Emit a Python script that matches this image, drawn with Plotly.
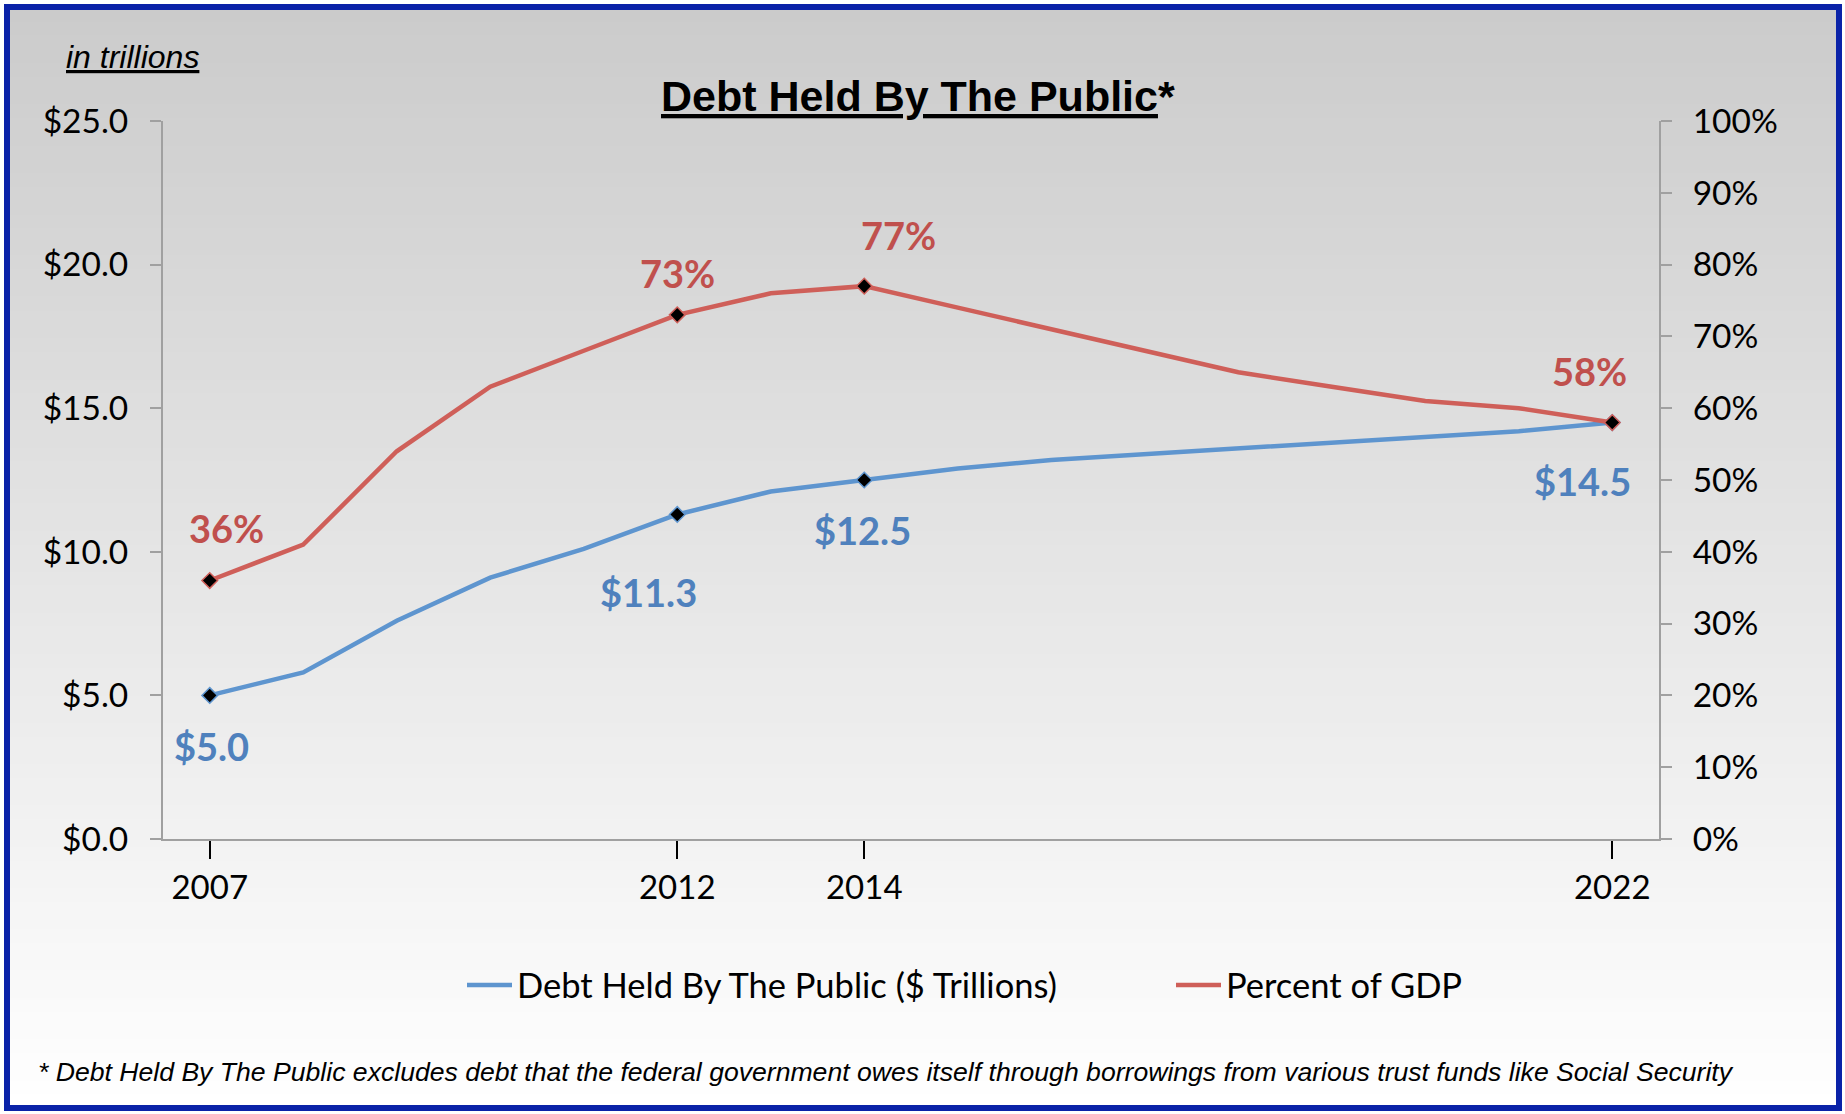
import plotly.graph_objects as go

# ---------------- data ----------------
years = [2007, 2008, 2009, 2010, 2011, 2012, 2013, 2014, 2015, 2016, 2017, 2018, 2019, 2020, 2021, 2022]
debt_trillions = [5.0, 5.8, 7.6, 9.1, 10.1, 11.3, 12.1, 12.5, 12.9, 13.2, 13.4, 13.6, 13.8, 14.0, 14.2, 14.5]
pct_gdp = [36, 41, 54, 63, 68, 73, 76, 77, 74, 71, 68, 65, 63, 61, 60, 58]
labeled_years = [2007, 2012, 2014, 2022]
x_tick_years = [2007, 2012, 2014, 2022]
left_ticks = [0, 5, 10, 15, 20, 25]
right_ticks = [0, 10, 20, 30, 40, 50, 60, 70, 80, 90, 100]

series_debt_name = "Debt Held By The Public ($ Trillions)"
series_gdp_name = "Percent of GDP"
title_text = "Debt Held By The Public"
units_text = "in trillions"
footnote_text = ("* Debt Held By The Public excludes debt that the federal government owes itself "
                 "through borrowings from various trust funds like Social Security")

# ---------------- styles ----------------
W, H = 1845, 1114
ML, MR, MT, MB = 163, 186, 121, 275
PW, PH = W - ML - MR, H - MT - MB

BLUE_LINE = "#5E95CF"
RED_LINE = "#CF5F59"
BLUE_TXT = "#4F81BD"
RED_TXT = "#C0504D"
AXIS_GRAY = "#A0A0A0"
FONT = "Lato, Carlito, 'Liberation Sans', sans-serif"
ARIAL = "'Liberation Sans', Arial, sans-serif"


def px_to_paper_x(px):
    return (px - ML) / PW


def px_to_paper_y(py):
    return (H - MB - py) / PH


fig = go.Figure()

fig.add_trace(go.Scatter(x=years, y=debt_trillions, mode="lines", name=series_debt_name,
                         line=dict(color=BLUE_LINE, width=4.5), yaxis="y", hoverinfo="skip",
                         legend="legend"))
fig.add_trace(go.Scatter(x=years, y=pct_gdp, mode="lines", name=series_gdp_name,
                         line=dict(color=RED_LINE, width=4.5), yaxis="y2", hoverinfo="skip",
                         legend="legend2"))

idx = [years.index(yr) for yr in labeled_years]
fig.add_trace(go.Scatter(x=[years[i] for i in idx], y=[debt_trillions[i] for i in idx], mode="markers",
                         marker=dict(symbol="diamond", size=12, color="black",
                                     line=dict(color=BLUE_LINE, width=1.5)),
                         yaxis="y", showlegend=False, hoverinfo="skip"))
fig.add_trace(go.Scatter(x=[years[i] for i in idx], y=[pct_gdp[i] for i in idx], mode="markers",
                         marker=dict(symbol="diamond", size=12, color="black",
                                     line=dict(color=RED_LINE, width=1.5)),
                         yaxis="y2", showlegend=False, hoverinfo="skip"))

# data labels (pixel offsets from the data point)
debt_offsets = {2007: (2, 51), 2012: (-29, 78), 2014: (-2, 50), 2022: (-30, 58)}
gdp_offsets = {2007: (17, -53), 2012: (0, -42), 2014: (34, -51), 2022: (-23, -52)}

annotations = []
for i in idx:
    yr = years[i]
    dx, dy = debt_offsets[yr]
    annotations.append(dict(x=yr, y=debt_trillions[i], xref="x", yref="y",
                            text=f"<b>${debt_trillions[i]:.1f}</b>", showarrow=False,
                            xshift=dx, yshift=-dy,
                            font=dict(family=FONT, size=38, color=BLUE_TXT)))
    dx, dy = gdp_offsets[yr]
    annotations.append(dict(x=yr, y=pct_gdp[i], xref="x", yref="y2",
                            text=f"<b>{pct_gdp[i]}%</b>", showarrow=False,
                            xshift=dx, yshift=-dy,
                            font=dict(family=FONT, size=38, color=RED_TXT)))

annotations.append(dict(x=px_to_paper_x(918), y=px_to_paper_y(96), xref="paper", yref="paper",
                        text=f"<b><u>{title_text}</u>*</b>", showarrow=False,
                        xanchor="center", yanchor="middle",
                        font=dict(family=ARIAL, size=43, color="black")))
annotations.append(dict(x=px_to_paper_x(64), y=px_to_paper_y(57), xref="paper", yref="paper",
                        text=f"<i><u>{units_text}</u></i>", showarrow=False,
                        xanchor="left", yanchor="middle",
                        font=dict(family=ARIAL, size=32, color="black")))
annotations.append(dict(x=px_to_paper_x(886), y=px_to_paper_y(1072), xref="paper", yref="paper",
                        text=f"<i>{footnote_text}</i>", showarrow=False,
                        xanchor="center", yanchor="middle",
                        font=dict(family=ARIAL, size=26.6, color="black")))

# background gradient bands + border
shapes = []
top_px, bot_px = 8, 1108
n_bands = 80
c_top, c_bot = 203, 255
for k in range(n_bands):
    y0 = top_px + (bot_px - top_px) * k / n_bands
    y1 = top_px + (bot_px - top_px) * (k + 1) / n_bands + 1
    t = (k + 0.5) / n_bands
    c = round(c_top + (c_bot - c_top) * t)
    shapes.append(dict(type="rect", xref="paper", yref="paper", layer="below",
                       x0=px_to_paper_x(7), x1=px_to_paper_x(1840),
                       y0=px_to_paper_y(y0), y1=px_to_paper_y(min(y1, bot_px)),
                       fillcolor=f"rgb({c},{c},{c})", line=dict(width=0)))
shapes.append(dict(type="rect", xref="paper", yref="paper", layer="above",
                   x0=px_to_paper_x(7), x1=px_to_paper_x(1839),
                   y0=px_to_paper_y(7), y1=px_to_paper_y(1108),
                   fillcolor="rgba(0,0,0,0)", line=dict(color="#0A22A8", width=6)))

legend_common = dict(orientation="h", xanchor="left", yanchor="middle",
                     font=dict(family=FONT, size=34.5, color="black"),
                     bgcolor="rgba(0,0,0,0)", itemwidth=45)

fig.update_layout(
    width=W, height=H,
    margin=dict(l=ML, r=MR, t=MT, b=MB, pad=0),
    paper_bgcolor="white",
    plot_bgcolor="rgba(0,0,0,0)",
    showlegend=True,
    legend=dict(x=px_to_paper_x(462), y=px_to_paper_y(985), **legend_common),
    legend2=dict(x=px_to_paper_x(1171), y=px_to_paper_y(985), **legend_common),
    xaxis=dict(range=[2006.5, 2022.5], tickvals=x_tick_years, ticktext=[str(v) for v in x_tick_years],
               showgrid=False, zeroline=False, showline=True, linecolor=AXIS_GRAY, linewidth=2,
               ticks="outside", ticklen=18, tickwidth=2, tickcolor="black",
               tickfont=dict(family=FONT, size=33, color="black"), fixedrange=True),
    yaxis=dict(range=[0, 25], tickvals=left_ticks, ticktext=[f"${v:.1f}" for v in left_ticks],
               showgrid=False, zeroline=False, showline=True, linecolor=AXIS_GRAY, linewidth=2,
               ticks="outside", ticklen=11, tickwidth=2, tickcolor=AXIS_GRAY,
               tickfont=dict(family=FONT, size=33.5, color="black"), ticklabelstandoff=15),
    yaxis2=dict(range=[0, 100], tickvals=right_ticks, ticktext=[f"{v}%" for v in right_ticks],
                overlaying="y", side="right",
                showgrid=False, zeroline=False, showline=True, linecolor=AXIS_GRAY, linewidth=2,
                ticks="outside", ticklen=11, tickwidth=2, tickcolor=AXIS_GRAY,
                tickfont=dict(family=FONT, size=33.5, color="black"), ticklabelstandoff=14),
    annotations=annotations,
    shapes=shapes,
)

fig.write_html("out.html")
